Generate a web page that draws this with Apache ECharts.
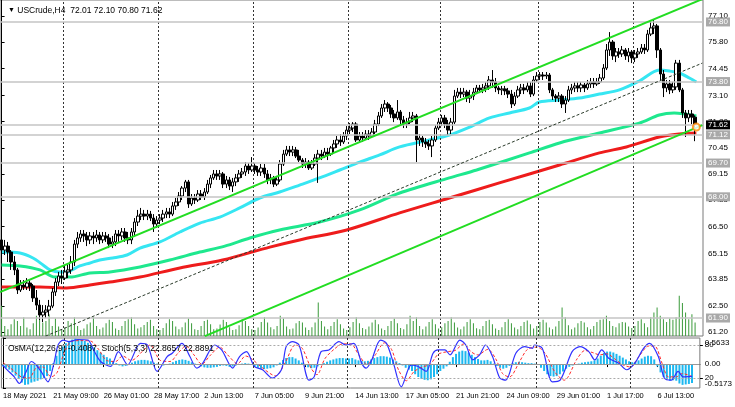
<!DOCTYPE html>
<html><head><meta charset="utf-8">
<script src="https://cdn.jsdelivr.net/npm/echarts@6/dist/echarts.min.js"></script>
<style>html,body{margin:0;padding:0;background:#fff}#c{width:735px;height:407px}</style>
</head><body><div id="c"></div><script>
// ---------- data (USCrude H4) ----------
const timeLabels=['18 May 2021','21 May 09:00','26 May 01:00','28 May 17:00','2 Jun 13:00','7 Jun 05:00','9 Jun 21:00','14 Jun 13:00','17 Jun 05:00','21 Jun 21:00','24 Jun 09:00','29 Jun 01:00','1 Jul 17:00','6 Jul 13:00'];
const priceTicks=[77.10,75.80,74.45,73.10,71.80,70.45,69.15,67.85,66.50,65.15,63.85,62.50,61.20];
const levels=[76.80,73.80,71.12,69.70,68.00,61.90];
const bidPrice=71.62;
const weekStarts=[19.5,49.5,79.5,109.5,138.5,169.5,199.5];
const opens=[
65.83,65.32,65.52,65.22,64.72,64.32,63.31,63.56,63.46,63.66,
63.51,62.91,62.55,62.05,62.20,62.30,62.50,63.21,63.71,64.01,
63.91,64.22,64.32,64.72,65.62,65.93,66.13,66.03,65.83,66.03,
65.93,66.08,65.83,66.03,65.93,65.62,65.73,66.13,66.03,66.23,
65.93,65.83,66.23,66.73,67.03,67.13,67.03,67.13,66.93,66.63,
66.83,66.93,67.13,67.24,67.13,67.54,67.74,68.04,68.44,68.75,
67.64,67.94,67.84,68.14,67.99,68.24,68.64,68.95,69.15,69.05,
69.15,68.64,68.85,68.54,68.75,68.95,69.15,69.25,69.55,69.35,
69.55,69.35,69.25,69.45,69.15,68.85,68.95,68.64,68.85,69.65,
70.15,70.36,70.25,70.36,70.05,69.85,69.65,69.75,69.45,69.65,
69.95,70.15,70.05,70.25,70.15,70.46,70.66,70.86,70.76,71.06,
71.36,71.46,71.66,70.86,71.06,70.96,71.16,71.06,71.26,71.66,
72.07,72.47,72.67,72.47,72.17,71.97,72.27,71.87,71.66,71.76,
71.97,72.07,70.86,70.96,70.76,70.66,70.56,70.86,71.46,71.76,
71.97,71.66,71.36,71.76,73.07,73.27,73.17,73.27,72.97,73.07,
73.27,73.48,73.38,73.48,73.58,73.88,73.78,73.48,73.38,73.43,
73.33,73.17,72.67,73.07,73.38,73.48,73.38,73.58,73.17,73.88,
74.08,74.13,74.08,74.13,73.38,73.07,72.97,73.07,72.67,72.87,
73.38,73.48,73.58,73.48,73.63,73.48,73.68,73.78,73.68,73.78,
73.98,74.48,75.39,75.79,75.09,75.29,75.19,75.39,75.09,75.29,
74.99,75.19,75.29,75.49,75.39,76.19,76.50,76.60,75.39,74.18,
73.48,73.68,73.38,73.53,74.73,73.38,72.22,71.97,72.17,72.01];
const highs=[
66.18,65.83,65.73,65.32,65.02,64.42,63.81,63.81,63.91,63.81,
63.61,63.31,62.81,62.55,62.55,62.81,63.41,63.91,64.22,64.32,
64.52,64.62,65.02,65.83,66.23,66.33,66.33,66.23,66.23,66.23,
66.33,66.23,66.23,66.23,66.13,66.03,66.33,66.33,66.43,66.43,
66.23,66.43,66.93,67.34,67.44,67.34,67.34,67.29,67.13,67.03,
67.13,67.34,67.44,67.44,67.74,67.94,68.24,68.54,68.85,68.85,
68.14,68.14,68.34,68.34,68.44,68.85,69.10,69.35,69.35,69.35,
69.25,69.05,69.00,68.95,69.15,69.35,69.45,69.75,69.70,70.00,
69.70,69.55,69.65,69.65,69.35,69.15,69.05,69.05,69.85,70.36,
70.56,70.56,70.56,70.51,70.36,69.95,69.95,69.85,69.85,70.15,
70.36,70.36,70.46,70.46,70.56,70.86,71.06,71.16,71.26,71.56,
71.71,71.76,71.76,71.26,71.26,71.36,71.36,71.46,71.87,72.27,
72.67,72.87,72.77,72.62,72.37,72.87,72.37,72.07,71.97,72.27,
72.27,72.17,71.16,71.06,70.96,70.86,71.06,71.61,71.97,72.12,
72.12,71.87,71.97,73.38,73.48,73.48,73.48,73.38,73.38,73.48,
73.63,73.63,73.68,73.78,74.08,74.38,73.98,73.58,73.58,73.58,
73.48,73.38,73.27,73.58,73.68,73.68,73.78,73.78,74.08,74.28,
74.28,74.28,74.28,74.23,73.48,73.17,73.27,73.17,73.07,73.58,
73.68,73.78,73.78,73.78,73.73,73.88,73.98,73.98,73.98,74.18,
74.68,75.69,76.29,75.89,75.49,75.49,75.59,75.49,75.49,75.39,
75.39,75.49,75.69,75.69,76.40,76.80,76.90,76.70,75.49,74.38,
73.88,73.88,73.78,74.89,74.89,73.48,72.37,72.37,72.37,72.10];
const lows=[
64.97,65.07,64.72,64.32,64.06,63.11,63.21,63.31,63.31,63.26,
62.71,62.30,61.80,61.70,61.90,62.00,62.40,63.01,63.51,63.61,
63.81,63.91,64.12,64.52,65.42,65.73,65.73,65.52,65.62,65.62,
65.73,65.62,65.67,65.73,65.42,65.42,65.52,65.73,65.83,65.73,
65.62,65.62,66.03,66.53,66.83,66.83,66.83,66.78,66.23,66.43,
66.63,66.73,66.93,66.93,67.03,67.34,67.54,67.84,68.24,67.44,
67.54,67.64,67.74,67.84,67.84,68.14,68.44,68.85,68.85,68.85,
68.44,68.44,68.34,68.24,68.54,68.75,68.95,69.05,69.15,69.25,
69.15,69.05,69.05,68.95,68.64,68.64,68.49,68.54,68.75,69.55,
70.05,70.05,70.05,69.95,69.75,69.45,69.45,69.35,69.35,69.55,
68.70,69.85,69.95,69.85,70.05,70.25,70.46,70.56,70.66,70.86,
71.16,71.26,70.76,70.76,70.76,70.86,70.86,70.96,71.16,71.56,
71.97,72.27,72.27,71.97,71.76,71.87,71.66,71.46,71.46,71.66,
71.76,69.75,70.56,70.51,70.46,70.36,70.00,70.76,71.36,71.56,
71.46,71.11,71.16,71.66,72.97,72.97,73.02,72.77,72.72,72.87,
73.17,73.22,73.22,73.27,73.38,73.48,73.27,73.17,73.12,73.12,
72.97,72.47,72.57,72.97,73.17,73.17,73.27,73.02,73.07,73.78,
73.88,73.88,73.93,73.22,72.87,72.77,72.77,72.47,72.22,72.77,
73.17,73.27,73.27,73.27,73.27,73.38,73.48,73.48,73.58,73.68,
73.88,74.38,75.09,74.89,74.78,74.99,75.04,74.89,74.78,74.73,
74.78,74.99,75.19,75.19,75.29,76.09,76.19,74.99,73.88,73.02,
73.27,73.17,73.22,73.38,73.27,71.97,71.01,71.76,71.66,70.80];
const closes=[
65.32,65.52,65.22,64.72,64.32,63.31,63.56,63.46,63.66,63.51,
62.91,62.55,62.05,62.20,62.30,62.50,63.21,63.71,64.01,63.91,
64.22,64.32,64.72,65.62,65.93,66.13,66.03,65.83,66.03,65.93,
66.08,65.83,66.03,65.93,65.62,65.73,66.13,66.03,66.23,65.93,
65.83,66.23,66.73,67.03,67.13,67.03,67.13,66.93,66.63,66.83,
66.93,67.13,67.24,67.13,67.54,67.74,68.04,68.44,68.75,67.64,
67.94,67.84,68.14,67.99,68.24,68.64,68.95,69.15,69.05,69.15,
68.64,68.85,68.54,68.75,68.95,69.15,69.25,69.55,69.35,69.55,
69.35,69.25,69.45,69.15,68.85,68.95,68.64,68.85,69.65,70.15,
70.36,70.25,70.36,70.05,69.85,69.65,69.75,69.45,69.65,69.95,
70.15,70.05,70.25,70.15,70.46,70.66,70.86,70.76,71.06,71.36,
71.46,71.66,70.86,71.06,70.96,71.16,71.06,71.26,71.66,72.07,
72.47,72.67,72.47,72.17,71.97,72.27,71.87,71.66,71.76,71.97,
72.07,70.86,70.96,70.76,70.66,70.56,70.86,71.46,71.76,71.97,
71.66,71.36,71.76,73.07,73.27,73.17,73.27,72.97,73.07,73.27,
73.48,73.38,73.48,73.58,73.88,73.78,73.48,73.38,73.43,73.33,
73.17,72.67,73.07,73.38,73.48,73.38,73.58,73.17,73.88,74.08,
74.13,74.08,74.13,73.38,73.07,72.97,73.07,72.67,72.87,73.38,
73.48,73.58,73.48,73.63,73.48,73.68,73.78,73.68,73.78,73.98,
74.48,75.39,75.79,75.09,75.29,75.19,75.39,75.09,75.29,74.99,
75.19,75.29,75.49,75.39,76.19,76.50,76.60,75.39,74.18,73.48,
73.68,73.38,73.53,74.73,73.38,72.22,71.97,72.17,72.01,71.62];
const volumes=[
900,300,200,350,500,450,300,560,250,200,
380,600,520,400,450,650,300,520,280,200,
250,450,380,560,300,180,220,350,400,560,
300,200,250,380,480,420,220,180,300,450,
500,560,350,220,260,330,420,480,300,200,
180,240,380,500,450,280,200,260,400,520,
380,200,180,300,450,480,350,200,220,340,
480,420,260,180,200,320,500,450,300,200,
180,250,420,560,400,260,200,300,600,520,
280,200,220,380,450,400,250,180,260,400,
1000,450,280,200,300,420,500,350,220,180,
260,420,560,380,240,200,280,400,480,350,
220,180,300,450,520,380,240,200,350,600,
450,560,300,200,280,420,500,350,220,260,
380,450,560,400,250,200,280,420,500,380,
230,200,300,450,480,350,220,180,260,420,
500,380,250,200,300,420,460,350,220,300,
420,480,400,250,200,280,450,850,560,320,
200,250,380,450,400,260,200,300,420,480,
500,600,450,300,260,380,420,400,280,240,
300,450,500,380,260,560,700,850,600,500,
420,520,480,560,1200,980,700,500,650,400];
const osma=[
-0.05,-0.08,-0.12,-0.18,-0.25,-0.32,-0.40,-0.45,-0.44,-0.40,
-0.38,-0.36,-0.33,-0.30,-0.26,-0.15,0.02,0.18,0.30,0.38,
0.45,0.50,0.53,0.55,0.54,0.52,0.50,0.46,0.42,0.36,
0.30,0.25,0.20,0.15,0.12,0.06,0.02,-0.03,-0.05,-0.04,
-0.02,0.03,0.06,0.08,0.09,0.09,0.08,0.06,0.03,0.01,
-0.02,-0.03,-0.02,0.01,0.04,0.07,0.09,0.10,0.09,0.07,
0.04,0.01,-0.02,-0.05,-0.07,-0.08,-0.08,-0.07,-0.06,-0.04,
-0.03,-0.04,-0.06,-0.05,-0.03,-0.01,0.01,0.02,0.01,-0.02,
-0.05,-0.08,-0.10,-0.11,-0.10,-0.09,-0.07,-0.03,0.03,0.09,
0.13,0.15,0.15,0.12,0.08,0.03,-0.03,-0.07,-0.09,-0.08,
-0.05,-0.02,0.02,0.05,0.08,0.10,0.12,0.13,0.13,0.12,
0.12,0.13,0.10,0.08,0.07,0.06,0.07,0.10,0.13,0.15,
0.17,0.17,0.16,0.14,0.10,0.06,0.02,-0.03,-0.08,-0.12,
-0.15,-0.22,-0.28,-0.32,-0.34,-0.35,-0.33,-0.28,-0.22,-0.15,
-0.10,-0.05,0.05,0.15,0.22,0.27,0.29,0.28,0.25,0.20,
0.15,0.11,0.08,0.08,0.09,0.06,0.01,-0.04,-0.08,-0.10,
-0.08,-0.04,0.02,0.04,0.05,0.04,0.03,0.02,0.02,0.01,
-0.02,-0.08,-0.15,-0.22,-0.26,-0.27,-0.26,-0.22,-0.16,-0.10,
-0.06,-0.03,-0.01,0.01,0.03,0.04,0.05,0.06,0.08,0.12,
0.18,0.24,0.27,0.27,0.25,0.22,0.18,0.14,0.10,0.06,
0.04,0.05,0.08,0.12,0.16,0.18,0.17,0.10,-0.05,-0.18,
-0.28,-0.33,-0.36,-0.35,-0.36,-0.42,-0.45,-0.44,-0.43,-0.4087];
// [bar index, value] readings
const stochMain=[[0,44],[1.1,36],[3.6,22],[5.2,10],[7.4,32],[9,50],[10.5,44],[12.1,32],[14.3,13],[16.2,47],[17.5,80],[19.1,89],[20.9,86],[23.8,90],[27,89],[28.8,71],[31,50],[34.2,41],[36.7,68],[39.6,44],[43.7,83],[45.9,80],[49,32],[52.2,59],[53.8,65],[56.9,83],[59.4,59],[61.6,38],[63.5,47],[67.3,80],[69.5,71],[73,38],[75.2,59],[77.4,68],[79.9,41],[82.5,35],[85.6,20],[88.5,35],[90,77],[91.9,86],[94.1,80],[97.3,16],[98.9,22],[101.1,68],[103.6,71],[106.8,86],[109,80],[111.5,83],[114,47],[115.4,38],[117,50],[120,89],[121.9,83],[124.1,47],[126.6,4],[129.8,44],[132,41],[134.5,32],[136.7,65],[138.3,71],[140.5,71],[142.1,62],[145.2,89],[147.1,80],[149.3,53],[151.5,62],[153.4,80],[155.6,59],[157.9,20],[159.8,16],[163,65],[165.8,77],[168.3,74],[168.9,80],[171.4,74],[174.6,13],[177.1,16],[180.9,68],[183.4,77],[186.2,68],[188.1,53],[190.3,71],[192.5,56],[195.7,47],[198.2,35],[200.8,47],[203.6,74],[205.5,83],[208.3,59],[210.2,20],[212.4,16],[214.6,32],[216.2,22],[219,22.87]];
const stochSignal=[[0,48],[2,40],[5.8,22],[8.3,20],[10.5,38],[12.7,40],[15.3,22],[17.2,30],[19.4,65],[21.6,86],[24.7,88],[27.9,87],[30.4,72],[32.9,52],[35.8,50],[38,60],[40.8,52],[44.6,70],[46.8,80],[50,52],[53.1,50],[55.6,65],[58.2,78],[60.7,62],[63.2,45],[65.7,60],[68.9,76],[71.4,62],[74.6,46],[77.1,60],[79,55],[82.1,40],[86.6,24],[89.7,48],[92.9,80],[95.1,74],[97.9,38],[99.8,26],[102.3,55],[105.2,72],[108,82],[110.5,82],[113.1,62],[115.6,45],[118.1,60],[121.3,84],[123.5,72],[125.7,35],[128.2,15],[130.7,32],[133.3,40],[135.8,45],[138.3,63],[141.4,68],[143.7,70],[146.5,82],[148.7,68],[150.9,62],[154.1,72],[156.6,55],[158.8,28],[161,22],[164.2,50],[166.7,72],[169.8,76],[172.4,64],[175.5,30],[178.4,16],[182.5,55],[185,70],[187.5,66],[189.7,62],[191.9,64],[194.4,55],[197,44],[199.5,40],[202,58],[205.2,78],[207.1,78],[209.6,45],[211.5,22],[214,22],[215.9,28],[219,22.89]];
const maFast=[[0,65.22],[5.8,65.17],[9.9,64.92],[13.1,64.57],[15.3,64.32],[18.4,64.21],[20.6,64.21],[22.2,64.32],[24.7,64.52],[27.9,64.67],[31,64.82],[35.1,64.92],[39.6,65.07],[43.7,65.42],[50,65.73],[56.3,66.23],[62.6,66.68],[68.9,66.98],[75.2,67.44],[81.5,67.94],[87.8,68.24],[94.1,68.59],[100.4,68.95],[106.8,69.35],[113.1,69.75],[119.4,70.11],[125.7,70.51],[135.1,70.86],[141.4,71.11],[147.8,71.51],[154.1,71.97],[160.4,72.22],[166.7,72.47],[169.8,72.77],[176.2,72.87],[182.5,72.97],[188.8,73.17],[195.1,73.38],[201.4,73.83],[207.7,74.38],[210.9,74.33],[214,74.23],[217.2,73.98],[219.4,73.78]];
const maMid=[[0,64.57],[5.8,64.52],[12.1,64.32],[16.8,63.96],[21.6,63.96],[27.9,64.17],[34.2,64.22],[43.7,64.47],[53.1,64.82],[62.6,65.22],[70.5,65.52],[78.4,65.93],[87.8,66.33],[100.4,66.73],[113.1,67.34],[125.7,68.19],[141.4,68.95],[150,69.35],[166.7,70.21],[176.2,70.71],[188.8,71.21],[201.4,71.71],[207.7,72.12],[212.4,72.22],[219.4,72.07]];
const maSlow=[[0,63.46],[12.1,63.46],[20.6,63.41],[27.9,63.56],[34.2,63.71],[43.7,63.96],[56.3,64.42],[69.8,64.82],[84.7,65.47],[94.1,65.83],[109,66.33],[125.7,67.19],[141.4,67.94],[157.2,68.70],[176.2,69.60],[188.8,70.21],[197.3,70.51],[207.7,71.01],[214,71.16],[219.4,71.21]];
const channelUpper=[[-0.5,63.21],[221.3,77.95]];
const channelLower=[[64.2,60.99],[221.3,71.61]];
const channelMid=[[13.9,60.99],[221.3,74.73]];
const alertPoint=[[219.4,71.51]];
// ---------- chart ----------
const SLOTS=222;
const cats=Array.from({length:SLOTS},(_,i)=>i);
const FONT="'Liberation Sans',Arial,sans-serif";
const candles=opens.map((o,i)=>[o,closes[i],lows[i],highs[i]]);
const chart=echarts.init(document.getElementById('c'),null,{renderer:'canvas'});
const grayBox={show:true,position:'end',distance:3,color:'#fff',backgroundColor:'#a9a9a9',padding:[1,2,0,2],fontSize:8,fontFamily:FONT,formatter:p=>p.value.toFixed(2)};
const vLines=weekStarts.map(v=>({xAxis:v}));
chart.setOption({
  animation:false,
  backgroundColor:'#fff',
  textStyle:{fontFamily:FONT},
  title:[
    {text:'{t|▼} USCrude,H4  72.01 72.10 70.80 71.62',left:3,top:1,textStyle:{fontSize:8.5,fontWeight:'normal',color:'#000',fontFamily:FONT,rich:{t:{fontSize:7,color:'#000'}}}},
    {text:'OsMA(12,26,9) -0.4087  Stoch(5,3,3) 22.8657 22.8891',left:3,top:339,textStyle:{fontSize:8.5,fontWeight:'normal',color:'#000',fontFamily:FONT}}
  ],
  grid:[
    {left:0,top:0,width:703,height:336,show:true,borderColor:'#7a7a7a',borderWidth:1},
    {left:0,top:338,width:703,height:50,show:true,borderColor:'#7a7a7a',borderWidth:1}
  ],
  xAxis:[
    {type:'category',gridIndex:0,data:cats,boundaryGap:true,show:false},
    {type:'value',gridIndex:0,min:-0.5,max:SLOTS-0.5,show:false},
    {type:'category',gridIndex:1,data:cats,boundaryGap:true,
      axisLine:{show:true,lineStyle:{color:'#000'}},
      axisTick:{show:true,alignWithLabel:true,interval:(i)=>i%16===0&&i/16<timeLabels.length,length:3,lineStyle:{color:'#000'}},
      axisLabel:{show:true,interval:0,align:'left',margin:4,fontSize:7.5,color:'#000',fontFamily:FONT,
        formatter:(v,i)=>(i%16===0&&i/16<timeLabels.length)?timeLabels[i/16]:''}},
    {type:'value',gridIndex:1,min:-0.5,max:SLOTS-0.5,show:false}
  ],
  yAxis:[
    {type:'value',gridIndex:0,position:'right',min:60.995,max:77.905,scale:true,splitLine:{show:false},
      axisLine:{show:true,lineStyle:{color:'#000'}},
      axisTick:{show:true,customValues:priceTicks,length:3,lineStyle:{color:'#000'}},
      axisLabel:{customValues:priceTicks,formatter:v=>v.toFixed(2),color:'#000',fontSize:8,margin:5,fontFamily:FONT}},
    {type:'value',gridIndex:0,min:0,max:10000,show:false},
    {type:'value',gridIndex:1,position:'right',min:-0.5173,max:0.5633,splitLine:{show:false},
      axisLine:{show:true,lineStyle:{color:'#000'}},
      axisTick:{show:true,customValues:[0.5633,0,-0.5173],length:3,lineStyle:{color:'#000'}},
      axisLabel:{customValues:[0.5633,0,-0.5173],color:'#000',fontSize:8,margin:5,fontFamily:FONT,
        formatter:v=>v===0?'0.00':(v>0?'{top|'+v.toFixed(4)+'}':'{bot|'+v.toFixed(4)+'}'),
        rich:{top:{padding:[9,0,0,0],fontSize:8,color:'#000'},bot:{padding:[0,0,9,0],fontSize:8,color:'#000'}}}},
    {type:'value',gridIndex:1,position:'right',min:1.8,max:92.7,splitLine:{show:false},
      axisLine:{show:false},axisTick:{show:true,customValues:[80,20],length:3,lineStyle:{color:'#000'}},
      axisLabel:{customValues:[80,20],color:'#000',fontSize:8,margin:5,fontFamily:FONT}}
  ],
  series:[
    {name:'vol',type:'bar',xAxisIndex:0,yAxisIndex:1,data:volumes,barWidth:1,itemStyle:{color:'#3a9a3a'},z:1,silent:true},
    {name:'grid',type:'line',xAxisIndex:1,yAxisIndex:0,data:[],z:1,silent:true,
      markLine:{symbol:'none',silent:true,label:{show:false},lineStyle:{color:'#333',type:[2,2],width:1},data:vLines}},
    {name:'price',type:'candlestick',xAxisIndex:0,yAxisIndex:0,data:candles,barWidth:3,z:4,
      itemStyle:{color:'#ffffff',color0:'#000000',borderColor:'#000000',borderColor0:'#000000',borderWidth:1},
      markLine:{symbol:'none',silent:true,precision:2,
        lineStyle:{color:'#c4c4c4',type:'solid',width:1.5},
        data:levels.map(v=>({yAxis:v,label:grayBox})).concat([{yAxis:bidPrice,label:Object.assign({},grayBox,{backgroundColor:'#000',color:'#fff'})}])}},
    {name:'maSlow',type:'line',xAxisIndex:1,yAxisIndex:0,data:maSlow,smooth:0.3,showSymbol:false,lineStyle:{color:'#ee1c1c',width:3},z:3},
    {name:'maMid',type:'line',xAxisIndex:1,yAxisIndex:0,data:maMid,smooth:0.3,showSymbol:false,lineStyle:{color:'#1ee88e',width:3},z:3},
    {name:'maFast',type:'line',xAxisIndex:1,yAxisIndex:0,data:maFast,smooth:0.3,showSymbol:false,lineStyle:{color:'#36e6f2',width:3},z:3},
    {name:'chUp',type:'line',xAxisIndex:1,yAxisIndex:0,data:channelUpper,showSymbol:false,lineStyle:{color:'#22dd22',width:2},z:5},
    {name:'chLo',type:'line',xAxisIndex:1,yAxisIndex:0,data:channelLower,showSymbol:false,lineStyle:{color:'#22dd22',width:2},z:5},
    {name:'chMid',type:'line',xAxisIndex:1,yAxisIndex:0,data:channelMid,showSymbol:false,lineStyle:{color:'#2a3a2a',width:1,type:[3,2]},z:5},
    {name:'alert',type:'scatter',xAxisIndex:1,yAxisIndex:0,data:alertPoint,symbol:'emptyCircle',symbolSize:7,itemStyle:{color:'#ff8800',borderWidth:1.5},z:6},
    {name:'osma',type:'bar',xAxisIndex:2,yAxisIndex:2,data:osma,barWidth:2,itemStyle:{color:'#1cb8f0'},z:2,
      markLine:{symbol:'none',silent:true,label:{show:false},lineStyle:{color:'#999',type:'solid',width:1},data:[{yAxis:0}]}},
    {name:'stochSig',type:'line',xAxisIndex:3,yAxisIndex:3,data:stochSignal,smooth:0.3,showSymbol:false,lineStyle:{color:'#ff2a2a',width:1,type:[3,2]},z:3},
    {name:'stoch',type:'line',xAxisIndex:3,yAxisIndex:3,data:stochMain,smooth:0.3,showSymbol:false,lineStyle:{color:'#3030ff',width:1.2},z:4,
      markLine:{symbol:'none',silent:true,label:{show:false},lineStyle:{color:'#aaa',type:[2,2],width:1},data:[{yAxis:80},{yAxis:20}]}},
    {name:'grid2',type:'line',xAxisIndex:3,yAxisIndex:3,data:[],silent:true,
      markLine:{symbol:'none',silent:true,label:{show:false},lineStyle:{color:'#333',type:[2,2],width:1},data:vLines}}
  ]
});
</script></body></html>
